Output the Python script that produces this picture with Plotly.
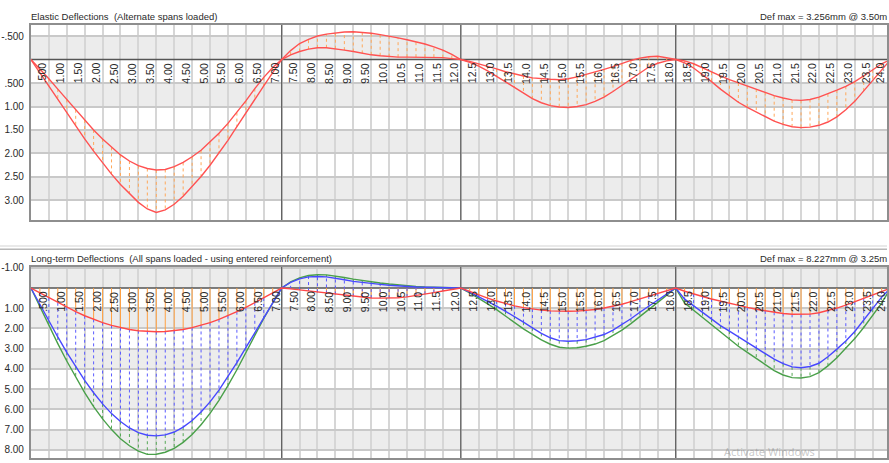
import plotly.graph_objects as go

# ---------------------------------------------------------------- data
# Stations along the beam (m), every 0.25 m from 0 to 24
STATIONS = [i * 0.25 for i in range(97)]
INNER_SUPPORTS = [7.0, 12.0, 18.0]

# Elastic deflections, alternate spans loaded (mm, +ve = downward)
ELASTIC_MAX = [
    0, 0.28, 0.57, 0.86, 1.14, 1.42, 1.69, 1.95, 2.20, 2.44, 2.66, 2.86, 3.04, 3.18, 3.256,
    3.20, 3.08, 2.91, 2.71, 2.49, 2.25, 1.99, 1.72, 1.43, 1.13, 0.84, 0.56, 0.28, 0,
    -0.19, -0.34, -0.43, -0.50, -0.54, -0.57, -0.585, -0.59, -0.58, -0.56, -0.53, -0.50,
    -0.46, -0.42, -0.38, -0.33, -0.27, -0.20, -0.11, 0,
    0.06, 0.14, 0.24, 0.36, 0.48, 0.60, 0.72, 0.83, 0.92, 0.98, 1.01, 1.02, 1.00, 0.96,
    0.89, 0.80, 0.68, 0.55, 0.41, 0.28, 0.16, 0.08, 0.03, 0,
    0.07, 0.18, 0.32, 0.47, 0.63, 0.78, 0.91, 1.02, 1.12, 1.22, 1.31, 1.38, 1.43, 1.45,
    1.44, 1.40, 1.33, 1.22, 1.07, 0.89, 0.67, 0.45, 0.22, 0,
]
ELASTIC_MIN = [
    0, 0.20, 0.41, 0.63, 0.85, 1.07, 1.29, 1.50, 1.69, 1.87, 2.03, 2.16, 2.26, 2.32, 2.35,
    2.34, 2.28, 2.19, 2.07, 1.93, 1.76, 1.57, 1.36, 1.13, 0.88, 0.62, 0.38, 0.17, 0,
    -0.10, -0.17, -0.22, -0.25, -0.25, -0.23, -0.20, -0.17, -0.13, -0.10, -0.08, -0.06,
    -0.05, -0.05, -0.05, -0.05, -0.05, -0.04, -0.02, 0,
    0.04, 0.09, 0.14, 0.20, 0.26, 0.31, 0.35, 0.39, 0.41, 0.42, 0.43, 0.41, 0.37, 0.32,
    0.27, 0.21, 0.15, 0.08, 0.02, -0.03, -0.06, -0.07, -0.04, 0,
    0.03, 0.09, 0.18, 0.27, 0.35, 0.43, 0.50, 0.56, 0.63, 0.70, 0.77, 0.82, 0.86, 0.87,
    0.85, 0.80, 0.73, 0.65, 0.57, 0.47, 0.35, 0.22, 0.09, 0,
]

# Long-term deflections, all spans loaded (mm)
LT_SHORT_TERM = [
    0, 0.24, 0.49, 0.73, 0.96, 1.17, 1.37, 1.55, 1.71, 1.85, 1.96, 2.05, 2.11, 2.15, 2.16,
    2.15, 2.11, 2.05, 1.96, 1.85, 1.71, 1.55, 1.37, 1.17, 0.96, 0.73, 0.49, 0.24, 0,
    0.04, 0.09, 0.15, 0.21, 0.27, 0.32, 0.37, 0.42, 0.46, 0.49, 0.50, 0.50, 0.48, 0.44,
    0.38, 0.31, 0.23, 0.15, 0.07, 0,
    0.17, 0.34, 0.50, 0.64, 0.77, 0.88, 0.97, 1.04, 1.09, 1.13, 1.15, 1.15, 1.14, 1.11,
    1.06, 0.99, 0.90, 0.80, 0.67, 0.54, 0.40, 0.26, 0.13, 0,
    0.16, 0.30, 0.42, 0.54, 0.65, 0.76, 0.87, 0.96, 1.05, 1.13, 1.20, 1.26, 1.30, 1.31,
    1.29, 1.22, 1.11, 0.99, 0.85, 0.68, 0.50, 0.32, 0.14, 0,
]
LT_CRACKED = [
    0, 0.82, 1.63, 2.42, 3.18, 3.90, 4.57, 5.18, 5.73, 6.21, 6.60, 6.92, 7.15, 7.28, 7.31,
    7.26, 7.12, 6.88, 6.55, 6.13, 5.63, 5.05, 4.40, 3.69, 2.95, 2.20, 1.45, 0.72, 0,
    -0.28, -0.45, -0.55, -0.57, -0.55, -0.49, -0.41, -0.33, -0.27, -0.22, -0.18, -0.14,
    -0.10, -0.07, -0.05, -0.04, -0.03, -0.03, -0.02, 0,
    0.20, 0.42, 0.66, 0.90, 1.15, 1.40, 1.69, 1.97, 2.24, 2.46, 2.60, 2.63, 2.61, 2.55,
    2.44, 2.30, 2.08, 1.82, 1.52, 1.20, 0.90, 0.60, 0.30, 0,
    0.55, 0.88, 1.22, 1.54, 1.86, 2.13, 2.40, 2.67, 2.97, 3.25, 3.52, 3.74, 3.90, 3.94,
    3.88, 3.72, 3.40, 3.02, 2.62, 2.15, 1.60, 1.05, 0.45, 0,
]
LT_TOTAL = [
    0, 0.93, 1.85, 2.75, 3.61, 4.42, 5.17, 5.86, 6.47, 7.00, 7.45, 7.80, 8.06, 8.227, 8.22,
    8.12, 7.93, 7.63, 7.24, 6.76, 6.20, 5.55, 4.83, 4.04, 3.20, 2.32, 1.50, 0.74, 0,
    -0.30, -0.50, -0.62, -0.66, -0.65, -0.60, -0.52, -0.44, -0.37, -0.31, -0.25, -0.20,
    -0.15, -0.11, -0.08, -0.05, -0.04, -0.03, -0.02, 0,
    0.24, 0.50, 0.78, 1.07, 1.40, 1.72, 2.02, 2.29, 2.56, 2.78, 2.93, 2.97, 2.95, 2.88,
    2.77, 2.60, 2.36, 2.08, 1.76, 1.42, 1.06, 0.71, 0.35, 0,
    0.74, 1.10, 1.46, 1.81, 2.17, 2.53, 2.88, 3.18, 3.48, 3.78, 4.08, 4.30, 4.43, 4.45,
    4.38, 4.18, 3.85, 3.45, 3.00, 2.50, 1.95, 1.38, 0.75, 0,
]

# Chainage labels written along the beam line
X_LABEL_POS = [0.5 * k for k in range(1, 49)]
X_LABELS = [
    ".500", "1.00", "1.50", "2.00", "2.50", "3.00", "3.50", "4.00", "4.50", "5.00",
    "5.50", "6.00", "6.50", "7.00", "7.50", "8.00", "8.50", "9.00", "9.50", "10.0",
    "10.5", "11.0", "11.5", "12.0", "12.5", "13.0", "13.5", "14.0", "14.5", "15.0",
    "15.5", "16.0", "16.5", "17.0", "17.5", "18.0", "18.5", "19.0", "19.5", "20.0",
    "20.5", "21.0", "21.5", "22.0", "22.5", "23.0", "23.5", "24.0",
]
TOP_Y_TICKS = [-0.5, 0.5, 1.0, 1.5, 2.0, 2.5, 3.0]
TOP_Y_TEXT = ["-.500", ".500", "1.00", "1.50", "2.00", "2.50", "3.00"]
TOP_BANDS = [(-0.5, 0.0), (0.5, 1.0), (1.5, 2.0), (2.5, 3.0)]
BOT_Y_TICKS = [-1, 1, 2, 3, 4, 5, 6, 7, 8]
BOT_Y_TEXT = ["-1.00", "1.00", "2.00", "3.00", "4.00", "5.00", "6.00", "7.00", "8.00"]
BOT_BANDS = [(-1, 0), (1, 2), (3, 4), (5, 6), (7, 8)]

TOP_TITLE = "Elastic Deflections  (Alternate spans loaded)"
TOP_MAX = "Def max = 3.256mm @ 3.50m"
BOT_TITLE = "Long-term Deflections  (All spans loaded - using entered reinforcement)"
BOT_MAX = "Def max = 8.227mm @ 3.25m"

# ---------------------------------------------------------------- geometry (px)
W, H = 889, 463
PLOT_LEFT = 31
PX_PER_M = 35.9
X_MAX = (W - PLOT_LEFT) / PX_PER_M

TOP_PANEL = dict(top=21, bottom=218, zero=56, px_per_mm=47.4)
BOT_PANEL = dict(top=265, bottom=458, zero=286.5, px_per_mm=20.4)

FONT = "Liberation Sans, Arial, sans-serif"
TXT = "#2a2a2a"
BAND = "#ececec"
GRID_V = "#d6d6d6"
GRID_H = "#c9c9c9"
FRAME = "#8e8e8e"
SUPPORT = "#5c5c5c"


def panel_axes(p):
    domain = [(H - p["bottom"]) / H, (H - p["top"]) / H]
    rng = [(p["bottom"] - p["zero"]) / p["px_per_mm"], -(p["zero"] - p["top"]) / p["px_per_mm"]]
    return domain, rng


def segments(lo, hi):
    xs, ys = [], []
    for s, a, b in zip(STATIONS, lo, hi):
        xs += [s, s, None]
        ys += [a, b, None]
    return xs, ys


top_dom, top_rng = panel_axes(TOP_PANEL)
bot_dom, bot_rng = panel_axes(BOT_PANEL)

fig = go.Figure()


def add_frame_lines(xa, ya, rng):
    # beam datum and interior support lines
    fig.add_trace(go.Scatter(x=[0, X_MAX], y=[0, 0], mode="lines", xaxis=xa, yaxis=ya,
                             line=dict(color="#555555", width=1.5), hoverinfo="skip"))
    xs, ys = [], []
    for s in INNER_SUPPORTS:
        xs += [s, s, None]
        ys += [rng[0], rng[1], None]
    fig.add_trace(go.Scatter(x=xs, y=ys, mode="lines", xaxis=xa, yaxis=ya,
                             line=dict(color=SUPPORT, width=1.2), hoverinfo="skip"))


# --- elastic panel
add_frame_lines("x", "y", top_rng)
xs, ys = segments(ELASTIC_MIN, ELASTIC_MAX)
fig.add_trace(go.Scatter(x=xs, y=ys, mode="lines", xaxis="x", yaxis="y",
                         line=dict(color="#ffa85a", width=1, dash="dot"), hoverinfo="skip"))
for series in (ELASTIC_MIN, ELASTIC_MAX):
    fig.add_trace(go.Scatter(x=STATIONS, y=series, mode="lines", xaxis="x", yaxis="y",
                             line=dict(color="#ff5252", width=1.4)))

# --- long-term panel
add_frame_lines("x2", "y2", bot_rng)
zeros = [0] * len(STATIONS)
for lo, hi, col, dash in ((zeros, LT_SHORT_TERM, "#ffa040", "solid"),
                          (LT_SHORT_TERM, LT_CRACKED, "#5a5aff", "dot"),
                          (LT_CRACKED, LT_TOTAL, "#55a855", "dot")):
    xs, ys = segments(lo, hi)
    fig.add_trace(go.Scatter(x=xs, y=ys, mode="lines", xaxis="x2", yaxis="y2",
                             line=dict(color=col, width=1, dash=dash), hoverinfo="skip"))
for series, col in ((LT_TOTAL, "#4aa04a"), (LT_CRACKED, "#4848ff"), (LT_SHORT_TERM, "#ff4848")):
    fig.add_trace(go.Scatter(x=STATIONS, y=series, mode="lines", xaxis="x2", yaxis="y2",
                             line=dict(color=col, width=1.4)))

xaxis_common = dict(range=[0, X_MAX], domain=[PLOT_LEFT / W, 1], showgrid=True, tick0=0, dtick=0.5,
                    gridcolor=GRID_V, gridwidth=1.5, showticklabels=False, ticks="",
                    zeroline=False, showline=True, linecolor=FRAME, linewidth=2, mirror=True,
                    fixedrange=True)
yaxis_common = dict(showgrid=True, gridcolor=GRID_H, gridwidth=2, zeroline=False, ticks="",
                    showline=True, linecolor=FRAME, linewidth=2, mirror=True,
                    tickfont=dict(family=FONT, size=10, color=TXT), ticklabelstandoff=3,
                    fixedrange=True)

shapes = []
for bands, xref, yref in ((TOP_BANDS, "x", "y"), (BOT_BANDS, "x2", "y2")):
    for lo, hi in bands:
        shapes.append(dict(type="rect", xref=xref, yref=yref, x0=0, x1=X_MAX, y0=lo, y1=hi,
                           fillcolor=BAND, line=dict(width=0), layer="below"))

# splitter between the two panels
shapes.append(dict(type="line", xref="paper", yref="paper", x0=0, x1=1,
                   y0=(H - 244) / H, y1=(H - 244) / H, line=dict(color="#e2e2e2", width=1.5)))
shapes.append(dict(type="line", xref="paper", yref="paper", x0=0, x1=1,
                   y0=(H - 247.5) / H, y1=(H - 247.5) / H, line=dict(color="#b8b8b8", width=1.5)))

annotations = []


def header(text, x_px, y_px):
    annotations.append(dict(text=text, xref="paper", yref="paper", x=x_px / W, y=(H - y_px) / H,
                            xanchor="left", yanchor="middle", showarrow=False,
                            font=dict(family=FONT, size=9.5, color=TXT)))


header(TOP_TITLE, PLOT_LEFT - 2, 13)
header(TOP_MAX, 760, 13)
header(BOT_TITLE, PLOT_LEFT - 2, 257)
header(BOT_MAX, 760, 257)

label_shift = 6.5 / PX_PER_M
edge_px = 4  # keep the last chainage label inside the window
for xref, yref in (("x", "y"), ("x2", "y2")):
    for pos, txt in zip(X_LABEL_POS, X_LABELS):
        xs_px = -edge_px if pos == X_LABEL_POS[-1] else 0
        annotations.append(dict(text=txt, xref=xref, yref=yref, x=pos - label_shift, y=0,
                                xanchor="center", yanchor="top", yshift=-1, xshift=xs_px,
                                textangle=-90, showarrow=False,
                                font=dict(family=FONT, size=10.5, color=TXT)))

annotations.append(dict(text="Activate Windows", xref="paper", yref="paper", x=724 / W,
                        y=(H - 461) / H, xanchor="left", yanchor="bottom", showarrow=False,
                        font=dict(family="Noto Sans", size=11, color="rgba(120,120,120,0.4)")))

fig.update_layout(
    width=W, height=H, margin=dict(l=0, r=0, t=0, b=0),
    paper_bgcolor="white", plot_bgcolor="white", showlegend=False, hovermode=False,
    xaxis=dict(**xaxis_common, anchor="y"),
    yaxis=dict(**yaxis_common, domain=top_dom, range=top_rng, anchor="x",
               tickvals=TOP_Y_TICKS, ticktext=TOP_Y_TEXT),
    xaxis2=dict(**xaxis_common, anchor="y2"),
    yaxis2=dict(**yaxis_common, domain=bot_dom, range=bot_rng, anchor="x2",
                tickvals=BOT_Y_TICKS, ticktext=BOT_Y_TEXT),
    shapes=shapes, annotations=annotations,
)

fig.write_html("out.html", config={"displayModeBar": False})
